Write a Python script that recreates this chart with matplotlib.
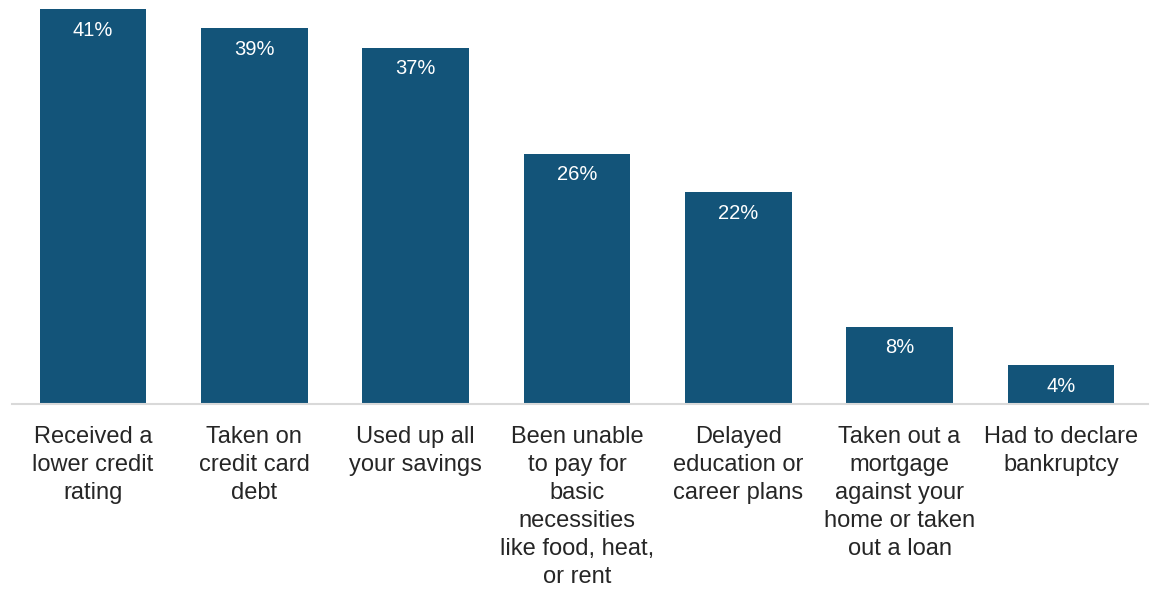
import matplotlib
matplotlib.use("Agg")
import matplotlib.pyplot as plt

plt.rcParams['font.family'] = ['Liberation Sans', 'DejaVu Sans']

categories = [
    "Received a\nlower credit\nrating",
    "Taken on\ncredit card\ndebt",
    "Used up all\nyour savings",
    "Been unable\nto pay for\nbasic\nnecessities\nlike food, heat,\nor rent",
    "Delayed\neducation or\ncareer plans",
    "Taken out a\nmortgage\nagainst your\nhome or taken\nout a loan",
    "Had to declare\nbankruptcy",
]
values = [41, 39, 37, 26, 22, 8, 4]

bar_color = "#135479"

fig = plt.figure(figsize=(11.5, 5.91), dpi=100)
ax = fig.add_axes([12.4 / 1150, 187 / 591, 1135.6 / 1150, (404 - 9) / 591])

x = list(range(len(values)))
bars = ax.bar(x, values, width=0.66, color=bar_color)

for xi, v in zip(x, values):
    ax.text(xi, v - 1.2, f"{v}%", ha="center", va="top", color="white", fontsize=14.5)

ax.set_xlim(-0.5, len(values) - 0.5 + 0.04)
ax.set_ylim(0, 41)
ax.set_yticks([])
ax.set_xticks(x)
ax.set_xticklabels(categories, fontsize=17, color="#262626", linespacing=1.35)
ax.tick_params(axis="x", length=0, pad=16)

for s in ["top", "right", "left"]:
    ax.spines[s].set_visible(False)
ax.spines["bottom"].set_color("#d9d9d9")
ax.spines["bottom"].set_linewidth(1.5)

fig.savefig("out.png", dpi=100)
